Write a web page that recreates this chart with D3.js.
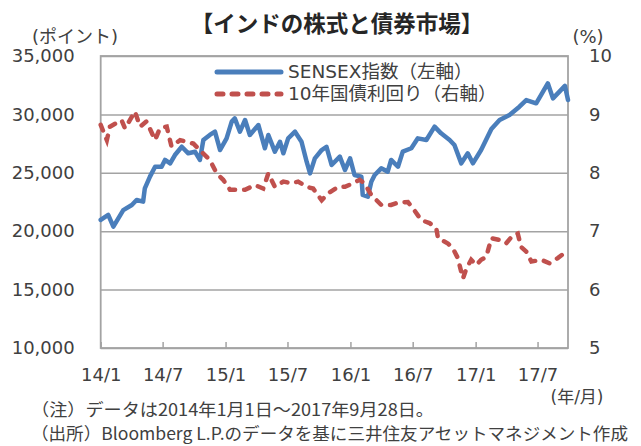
<!DOCTYPE html>
<html>
<head>
<meta charset="utf-8">
<script src="https://cdn.jsdelivr.net/npm/d3@7"></script>
<style>
  body { margin: 0; background: #fff; }
  text { font-family: "DejaVu Sans", "Noto Sans CJK JP", sans-serif; fill: #404040; }
  .jp { font-family: "Noto Sans CJK JP", sans-serif; }
</style>
</head>
<body>
<svg id="chart" width="641" height="446"></svg>
<script>
// SENSEX index (left axis)
var sensexDates = ["2014-01-01", "2014-01-23", "2014-02-07", "2014-03-08", "2014-04-02", "2014-04-16", "2014-05-05", "2014-05-10",
  "2014-05-25", "2014-06-09", "2014-06-28", "2014-07-08", "2014-07-23", "2014-08-06", "2014-08-26", "2014-09-14", "2014-10-04",
  "2014-10-18", "2014-10-28", "2014-11-16", "2014-12-01", "2014-12-16", "2015-01-04", "2015-01-19", "2015-01-28", "2015-02-12",
  "2015-02-27", "2015-03-13", "2015-04-07", "2015-04-26", "2015-05-06", "2015-05-25", "2015-06-09", "2015-06-19", "2015-07-03",
  "2015-07-23", "2015-08-11", "2015-08-26", "2015-09-05", "2015-09-19", "2015-10-09", "2015-10-23", "2015-11-07", "2015-12-01",
  "2015-12-16", "2015-12-31", "2016-01-13", "2016-02-02", "2016-02-06", "2016-02-21", "2016-03-02", "2016-03-12", "2016-03-31",
  "2016-04-19", "2016-04-29", "2016-05-19", "2016-06-02", "2016-06-27", "2016-07-16", "2016-08-10", "2016-09-03", "2016-09-22",
  "2016-10-17", "2016-10-31", "2016-11-20", "2016-12-09", "2016-12-24", "2017-01-17", "2017-02-16", "2017-03-12", "2017-04-10",
  "2017-05-09", "2017-05-29", "2017-06-27", "2017-07-31", "2017-08-15", "2017-09-03", "2017-09-19", "2017-09-28"]
var sensexValues = [20960, 21390, 20390, 21800, 22240, 22670, 22530, 23670,
  24670, 25520, 25520, 26100, 25800, 26520, 27230, 26670, 26800,
  26100, 27800, 28240, 28520, 26950, 27950, 29380, 29660, 28520,
  29520, 28240, 29090, 27100, 28240, 26810, 27660, 26670, 27950,
  28520, 27660, 25950, 24950, 26240, 26950, 27230, 25670, 26380,
  25240, 26240, 24810, 24670, 23100, 22950, 24240, 24810, 25380,
  25100, 26100, 25520, 26810, 27100, 27950, 27810, 28950, 28380,
  27810, 27380, 25810, 26670, 25810, 26950, 28750, 29520, 29950,
  30660, 31230, 30950, 32660, 31370, 31950, 32450, 31230]

// 10-year government bond yield (right axis, %)
var yieldDates = ["2014-01-01", "2014-01-19", "2014-01-28", "2014-03-03", "2014-03-13", "2014-04-11", "2014-04-26", "2014-05-15",
  "2014-06-09", "2014-06-23", "2014-07-13", "2014-07-27", "2014-08-21", "2014-09-29", "2014-10-28", "2014-11-16", "2014-12-06",
  "2014-12-25", "2015-01-14", "2015-02-27", "2015-03-28", "2015-04-21", "2015-05-06", "2015-05-25", "2015-06-19", "2015-07-13",
  "2015-08-01", "2015-08-26", "2015-09-14", "2015-10-09", "2015-10-28", "2015-11-26", "2015-12-16", "2016-01-08", "2016-01-28",
  "2016-02-11", "2016-03-02", "2016-03-31", "2016-04-29", "2016-05-19", "2016-06-17", "2016-07-02", "2016-07-26", "2016-08-19",
  "2016-09-08", "2016-09-13", "2016-10-12", "2016-10-26", "2016-11-10", "2016-11-20", "2016-11-25", "2016-12-05", "2016-12-19",
  "2017-01-03", "2017-01-17", "2017-02-01", "2017-02-16", "2017-03-12", "2017-03-31", "2017-04-20", "2017-05-04", "2017-05-14",
  "2017-05-29", "2017-06-13", "2017-07-12", "2017-08-05", "2017-08-29", "2017-09-23", "2017-09-28"]
var yieldValues = [8.82, 8.56, 8.79, 8.90, 8.76, 9.05, 8.79, 8.88,
  8.56, 8.76, 8.79, 8.45, 8.56, 8.50, 8.33, 8.22, 7.99,
  7.88, 7.71, 7.71, 7.79, 7.73, 7.99, 7.76, 7.85, 7.82,
  7.85, 7.76, 7.73, 7.53, 7.65, 7.76, 7.76, 7.82, 7.88,
  7.82, 7.62, 7.45, 7.45, 7.49, 7.50, 7.39, 7.19, 7.14,
  7.05, 6.88, 6.79, 6.71, 6.54, 6.30, 6.19, 6.36, 6.51,
  6.42, 6.51, 6.56, 6.88, 6.85, 6.79, 6.93, 6.96, 6.73,
  6.65, 6.48, 6.51, 6.45, 6.54, 6.65, 6.68]

var leftTicks = [10000, 15000, 20000, 25000, 30000, 35000]
var rightTicks = [5, 6, 7, 8, 9, 10]
var xTickDates = ["2014-01-01", "2014-07-01", "2015-01-01", "2015-07-01", "2016-01-01", "2016-07-01", "2017-01-01", "2017-07-01"]
var xTickLabels = ["14/1", "14/7", "15/1", "15/7", "16/1", "16/7", "17/1", "17/7"]
var seriesNames = ["SENSEX指数（左軸）", "10年国債利回り（右軸）"]

var parseDate = d3.timeParse("%Y-%m-%d")
var blue = "#4a7ebb"
var red = "#c0504d"
var gridColor = "#a3a3a3"

var margin = { top: 56, right: 73, bottom: 98, left: 100.7 }
var svg = d3.select("#chart")
var W = +svg.attr("width"), H = +svg.attr("height")
var width = W - margin.left - margin.right
var height = H - margin.top - margin.bottom

var x = d3.scaleTime()
  .domain([parseDate("2014-01-01"), parseDate("2017-09-28")])
  .range([0, width])
var yLeft = d3.scaleLinear().domain([10000, 35000]).range([height, 0])
var yRight = d3.scaleLinear().domain([5, 10]).range([height, 0])

var sensex = sensexDates.map(function (d, i) { return { date: parseDate(d), value: sensexValues[i] } })
var yields = yieldDates.map(function (d, i) { return { date: parseDate(d), value: yieldValues[i] } })

var g = svg.append("g").attr("transform", "translate(" + margin.left + "," + margin.top + ")")

// grid lines
g.append("g")
  .call(d3.axisLeft(yLeft).tickValues(leftTicks).tickSize(-width).tickFormat(""))
  .call(function (a) { a.select(".domain").remove() })
  .selectAll("line").attr("stroke", gridColor).attr("stroke-width", 1.5)

// plot frame
g.append("rect")
  .attr("width", width).attr("height", height)
  .attr("fill", "none").attr("stroke", gridColor).attr("stroke-width", 1.8)

// left axis labels
g.append("g")
  .call(d3.axisLeft(yLeft).tickValues(leftTicks).tickSize(0).tickPadding(26).tickFormat(d3.format(",")))
  .call(function (a) { a.select(".domain").remove() })
  .selectAll("text").attr("font-size", 18).style("font-family", null)

// right axis labels
g.append("g")
  .attr("transform", "translate(" + width + ",0)")
  .call(d3.axisRight(yRight).tickValues(rightTicks).tickSize(0).tickPadding(21).tickFormat(d3.format("d")))
  .call(function (a) { a.select(".domain").remove() })
  .selectAll("text").attr("font-size", 18).style("font-family", null)

// x axis: small ticks pointing inward
var xAxis = g.append("g")
  .attr("transform", "translate(0," + height + ")")
  .call(d3.axisBottom(x).tickValues(xTickDates.map(parseDate)).tickSize(-6).tickPadding(20)
    .tickFormat(function (d, i) { return xTickLabels[i] }))
xAxis.select(".domain").remove()
xAxis.selectAll("line").attr("stroke", gridColor).attr("stroke-width", 1.5)
xAxis.selectAll("text").attr("font-size", 18).style("font-family", null)

// lines
var line = function (scale) {
  return d3.line().x(function (d) { return x(d.date) }).y(function (d) { return scale(d.value) })
}

g.append("path")
  .datum(sensex)
  .attr("fill", "none").attr("stroke", blue).attr("stroke-width", 4.5)
  .attr("stroke-linejoin", "round").attr("stroke-linecap", "round")
  .attr("d", line(yLeft))

g.append("path")
  .datum(yields)
  .attr("fill", "none").attr("stroke", red).attr("stroke-width", 4.5)
  .attr("stroke-linecap", "round").attr("stroke-dasharray", "6,9")
  .attr("d", line(yRight))

// legend
var legend = svg.append("g").attr("transform", "translate(215,72)")
var legendColors = [blue, red]
seriesNames.forEach(function (name, i) {
  var row = legend.append("g").attr("transform", "translate(0," + i * 22 + ")")
  row.append("line")
    .attr("x1", 2).attr("x2", 66)
    .attr("stroke", legendColors[i]).attr("stroke-width", 5)
    .attr("stroke-linecap", "round")
    .attr("stroke-dasharray", i === 1 ? "6,9" : null)
  row.append("text")
    .attr("x", 73).attr("dy", "0.35em")
    .attr("font-size", 18.5)
    .text(name)
})

// titles and notes
svg.append("text")
  .attr("class", "jp")
  .attr("x", 337).attr("y", 32)
  .attr("text-anchor", "middle")
  .attr("font-size", 22.5).attr("font-weight", "bold")
  .style("fill", "#262626")
  .text("【インドの株式と債券市場】")

svg.append("text")
  .attr("x", 75).attr("y", 43)
  .attr("text-anchor", "middle").attr("font-size", 18)
  .text("(ポイント)")

svg.append("text")
  .attr("x", 588).attr("y", 43)
  .attr("text-anchor", "middle").attr("font-size", 18)
  .text("(%)")

svg.append("text")
  .attr("x", 577).attr("y", 403)
  .attr("text-anchor", "middle").attr("font-size", 17)
  .text("(年/月)")

svg.append("text")
  .attr("class", "jp")
  .attr("x", 31).attr("y", 416)
  .attr("font-size", 17)
  .attr("textLength", 403).attr("lengthAdjust", "spacingAndGlyphs")
  .text("（注）データは2014年1月1日～2017年9月28日。")

svg.append("text")
  .attr("class", "jp")
  .attr("x", 31).attr("y", 440)
  .attr("font-size", 17)
  .attr("textLength", 597).attr("lengthAdjust", "spacingAndGlyphs")
  .text("（出所）Bloomberg L.P.のデータを基に三井住友アセットマネジメント作成")
</script>
</body>
</html>
